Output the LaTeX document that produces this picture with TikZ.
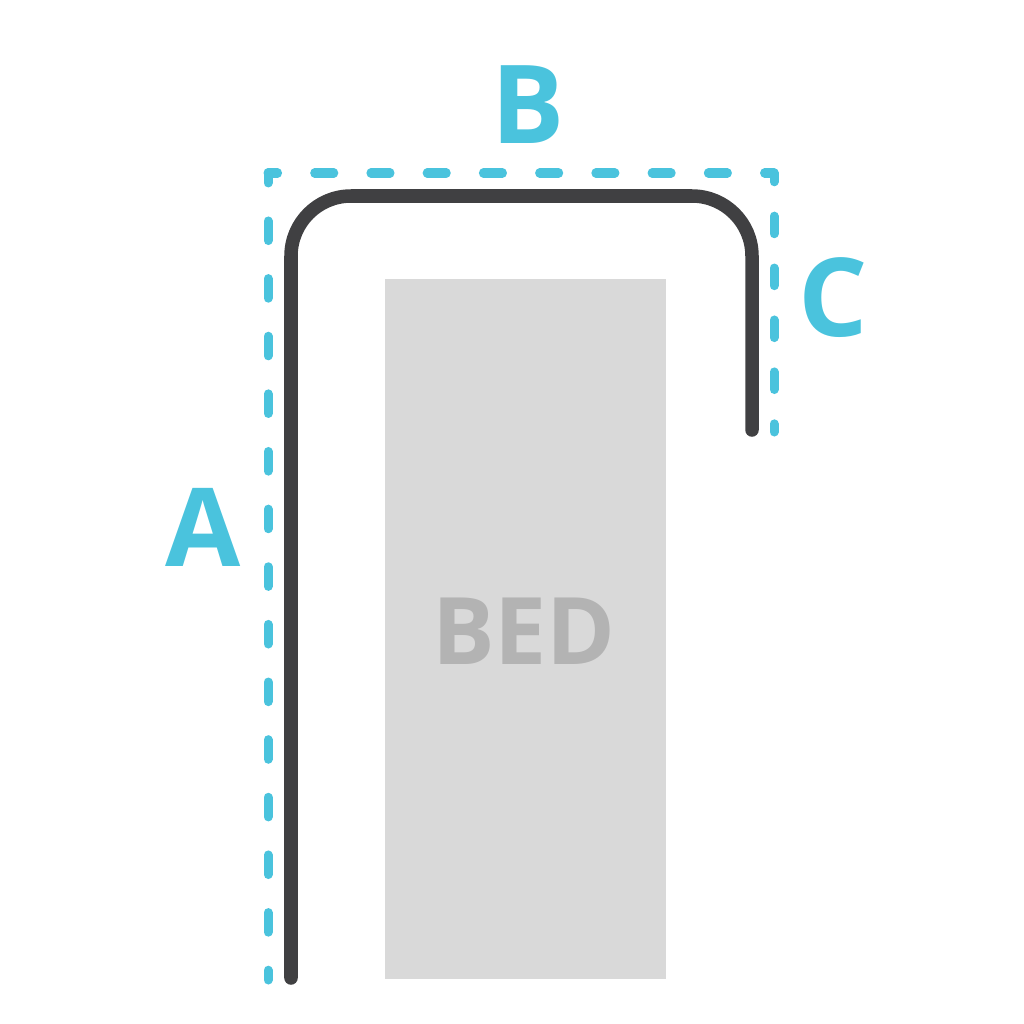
\documentclass[tikz,border=0pt]{standalone}
\usepackage{fontspec}
\setmainfont{Open Sans}

\definecolor{markcyan}{HTML}{4AC3DD}
\definecolor{railgray}{HTML}{404042}
\definecolor{bedfill}{HTML}{D9D9D9}
\definecolor{bedtext}{HTML}{B3B3B3}

\tikzset{
  measure/.style = {markcyan, line width = 0.9mm, line cap = round},
  rail/.style = {railgray, line width = 1.35mm, line cap = round, rounded corners = 6mm},
  letter/.style = {markcyan, inner sep = 0pt, font = \fontsize{31}{31}\selectfont\bfseries}
}

\begin{document}
\begin{tikzpicture}[x = 0.01cm, y = -0.01cm]
  \useasboundingbox (0,0) rectangle (1024,1024);

  \fill[bedfill] (385,279) rectangle (666,979);
  \node[inner sep = 0pt, bedtext, font = \fontsize{26.5}{26.5}\selectfont\bfseries] (bed) at (524,631) {BED};

  \draw[measure, dash pattern = on 1.96mm off 3.80mm, dash phase = 0.98mm] (268,980) -- (268,173);
  \draw[measure, dash pattern = on 1.91mm off 3.71mm, dash phase = 0.955mm] (268,173) -- (774,173);
  \draw[measure, dash pattern = on 1.76mm off 3.43mm, dash phase = 0.88mm] (774,173) -- (774,432);

  \draw[rail] (291,978) -- (291,196) -- (752,196) -- (752,430);

  \node[letter] (lenA) at (203,527) {A};
  \node[letter] (lenB) at (528,105) {B};
  \node[letter] (lenC) at (833,298) {C};
\end{tikzpicture}
\end{document}
